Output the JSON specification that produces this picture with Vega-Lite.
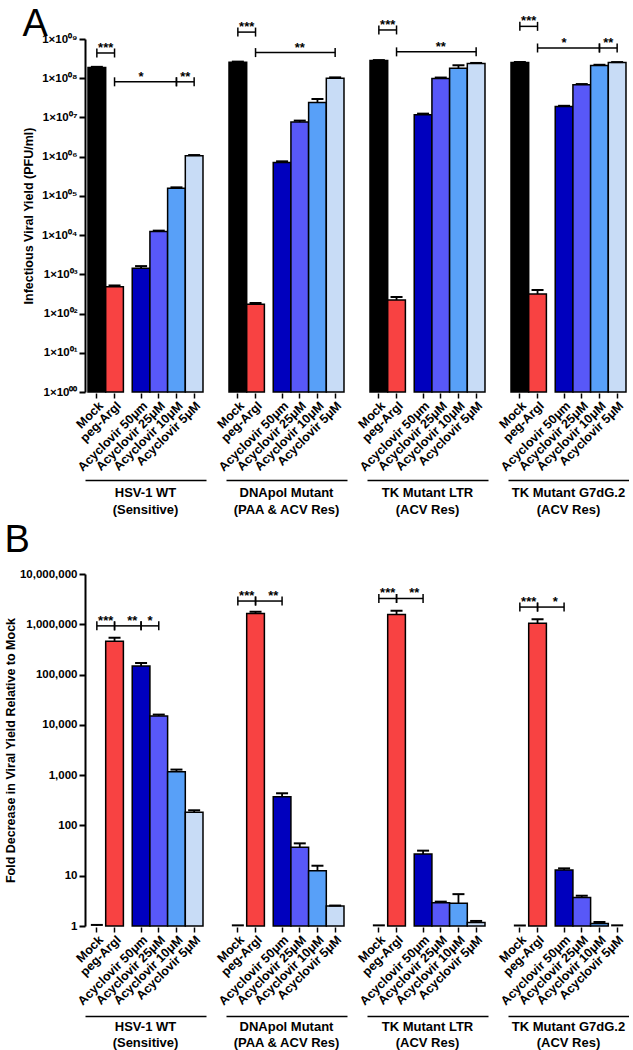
{
  "$schema": "https://vega.github.io/schema/vega-lite/v6.json",
  "background": "white",
  "padding": {"left": 4, "top": 6, "right": 0, "bottom": 0},
  "config": {
    "view": {"stroke": null},
    "font": "Liberation Sans",
    "axis": {"labelFont": "Liberation Sans", "titleFont": "Liberation Sans", "labelColor": "#000", "titleColor": "#000", "labelFontWeight": "bold", "titleFontWeight": "bold", "domainColor": "#000", "tickColor": "#000", "grid": false},
    "tick": {"opacity": 1},
    "concat": {"spacing": 5}
  },
  "datasets": {
    "A": [
      {"group": "HSV-1 WT", "cond": "Mock", "value": 187000000, "hi": 195000000},
      {"group": "HSV-1 WT", "cond": "peg-ArgI", "value": 485, "hi": 520},
      {"group": "HSV-1 WT", "cond": "Acyclovir 50μm", "value": 1430, "hi": 1620},
      {"group": "HSV-1 WT", "cond": "Acyclovir 25μM", "value": 12300, "hi": 13000},
      {"group": "HSV-1 WT", "cond": "Acyclovir 10μM", "value": 157000, "hi": 165000},
      {"group": "HSV-1 WT", "cond": "Acyclovir 5μM", "value": 1050000, "hi": 1100000},
      {"group": "DNApol Mutant", "cond": "Mock", "value": 257000000, "hi": 265000000},
      {"group": "DNApol Mutant", "cond": "peg-ArgI", "value": 173, "hi": 185},
      {"group": "DNApol Mutant", "cond": "Acyclovir 50μm", "value": 710000, "hi": 760000},
      {"group": "DNApol Mutant", "cond": "Acyclovir 25μM", "value": 7600000, "hi": 8300000},
      {"group": "DNApol Mutant", "cond": "Acyclovir 10μM", "value": 24000000, "hi": 29500000},
      {"group": "DNApol Mutant", "cond": "Acyclovir 5μM", "value": 100000000, "hi": 105000000},
      {"group": "TK Mutant LTR", "cond": "Mock", "value": 283000000, "hi": 290000000},
      {"group": "TK Mutant LTR", "cond": "peg-ArgI", "value": 222, "hi": 263},
      {"group": "TK Mutant LTR", "cond": "Acyclovir 50μm", "value": 11700000, "hi": 12500000},
      {"group": "TK Mutant LTR", "cond": "Acyclovir 25μM", "value": 98000000, "hi": 104000000},
      {"group": "TK Mutant LTR", "cond": "Acyclovir 10μM", "value": 180000000, "hi": 214000000},
      {"group": "TK Mutant LTR", "cond": "Acyclovir 5μM", "value": 237000000, "hi": 245000000},
      {"group": "TK Mutant G7dG.2", "cond": "Mock", "value": 252000000, "hi": 260000000},
      {"group": "TK Mutant G7dG.2", "cond": "peg-ArgI", "value": 316, "hi": 398},
      {"group": "TK Mutant G7dG.2", "cond": "Acyclovir 50μm", "value": 19000000, "hi": 19800000},
      {"group": "TK Mutant G7dG.2", "cond": "Acyclovir 25μM", "value": 68000000, "hi": 71000000},
      {"group": "TK Mutant G7dG.2", "cond": "Acyclovir 10μM", "value": 210000000, "hi": 220000000},
      {"group": "TK Mutant G7dG.2", "cond": "Acyclovir 5μM", "value": 250000000, "hi": 258000000},
      {"group": "HSV-1 WT", "x1": "Mock", "x2": "peg-ArgI", "y": 440000000, "stars": "***", "at": "_1"},
      {"group": "HSV-1 WT", "x1": "peg-ArgI", "x2": "Acyclovir 10μM", "y": 81000000, "stars": "*", "at": "Acyclovir 50μm"},
      {"group": "HSV-1 WT", "x1": "Acyclovir 10μM", "x2": "Acyclovir 5μM", "y": 81000000, "stars": "**", "at": "_6"},
      {"group": "DNApol Mutant", "x1": "Mock", "x2": "peg-ArgI", "y": 1500000000, "stars": "***", "at": "_1"},
      {"group": "DNApol Mutant", "x1": "peg-ArgI", "x2": "Acyclovir 5μM", "y": 450000000, "stars": "**", "at": "Acyclovir 25μM"},
      {"group": "TK Mutant LTR", "x1": "Mock", "x2": "peg-ArgI", "y": 1700000000, "stars": "***", "at": "_1"},
      {"group": "TK Mutant LTR", "x1": "peg-ArgI", "x2": "Acyclovir 5μM", "y": 470000000, "stars": "**", "at": "Acyclovir 25μM"},
      {"group": "TK Mutant G7dG.2", "x1": "Mock", "x2": "peg-ArgI", "y": 2100000000, "stars": "***", "at": "_1"},
      {"group": "TK Mutant G7dG.2", "x1": "peg-ArgI", "x2": "Acyclovir 10μM", "y": 590000000, "stars": "*", "at": "Acyclovir 50μm"},
      {"group": "TK Mutant G7dG.2", "x1": "Acyclovir 10μM", "x2": "Acyclovir 5μM", "y": 590000000, "stars": "**", "at": "_6"}
    ],
    "B": [
      {"group": "HSV-1 WT", "cond": "Mock", "value": 1, "hi": 1.05},
      {"group": "HSV-1 WT", "cond": "peg-ArgI", "value": 460000, "hi": 540000},
      {"group": "HSV-1 WT", "cond": "Acyclovir 50μm", "value": 148000, "hi": 170000},
      {"group": "HSV-1 WT", "cond": "Acyclovir 25μM", "value": 15000, "hi": 16000},
      {"group": "HSV-1 WT", "cond": "Acyclovir 10μM", "value": 1170, "hi": 1290},
      {"group": "HSV-1 WT", "cond": "Acyclovir 5μM", "value": 182, "hi": 200},
      {"group": "DNApol Mutant", "cond": "Mock", "value": 1, "hi": 1.03},
      {"group": "DNApol Mutant", "cond": "peg-ArgI", "value": 1630000, "hi": 1770000},
      {"group": "DNApol Mutant", "cond": "Acyclovir 50μm", "value": 372, "hi": 436},
      {"group": "DNApol Mutant", "cond": "Acyclovir 25μM", "value": 36.7, "hi": 44},
      {"group": "DNApol Mutant", "cond": "Acyclovir 10μM", "value": 12.6, "hi": 15.8},
      {"group": "DNApol Mutant", "cond": "Acyclovir 5μM", "value": 2.5, "hi": 2.55},
      {"group": "TK Mutant LTR", "cond": "Mock", "value": 1, "hi": 1.03},
      {"group": "TK Mutant LTR", "cond": "peg-ArgI", "value": 1560000, "hi": 1850000},
      {"group": "TK Mutant LTR", "cond": "Acyclovir 50μm", "value": 27, "hi": 31.5},
      {"group": "TK Mutant LTR", "cond": "Acyclovir 25μM", "value": 2.9, "hi": 3.05},
      {"group": "TK Mutant LTR", "cond": "Acyclovir 10μM", "value": 2.85, "hi": 4.3},
      {"group": "TK Mutant LTR", "cond": "Acyclovir 5μM", "value": 1.17, "hi": 1.26},
      {"group": "TK Mutant G7dG.2", "cond": "Mock", "value": 1, "hi": 1.02},
      {"group": "TK Mutant G7dG.2", "cond": "peg-ArgI", "value": 1050000, "hi": 1260000},
      {"group": "TK Mutant G7dG.2", "cond": "Acyclovir 50μm", "value": 13, "hi": 14},
      {"group": "TK Mutant G7dG.2", "cond": "Acyclovir 25μM", "value": 3.7, "hi": 4.0},
      {"group": "TK Mutant G7dG.2", "cond": "Acyclovir 10μM", "value": 1.12, "hi": 1.2},
      {"group": "TK Mutant G7dG.2", "cond": "Acyclovir 5μM", "value": 1.0, "hi": 1.03},
      {"group": "HSV-1 WT", "x1": "Mock", "x2": "peg-ArgI", "y": 930000, "stars": "***", "at": "_1"},
      {"group": "HSV-1 WT", "x1": "peg-ArgI", "x2": "Acyclovir 50μm", "y": 930000, "stars": "**", "at": "_3"},
      {"group": "HSV-1 WT", "x1": "Acyclovir 50μm", "x2": "Acyclovir 25μM", "y": 930000, "stars": "*", "at": "_4"},
      {"group": "DNApol Mutant", "x1": "Mock", "x2": "peg-ArgI", "y": 2900000, "stars": "***", "at": "_1"},
      {"group": "DNApol Mutant", "x1": "peg-ArgI", "x2": "Acyclovir 50μm", "y": 2900000, "stars": "**", "at": "_3"},
      {"group": "TK Mutant LTR", "x1": "Mock", "x2": "peg-ArgI", "y": 3260000, "stars": "***", "at": "_1"},
      {"group": "TK Mutant LTR", "x1": "peg-ArgI", "x2": "Acyclovir 50μm", "y": 3260000, "stars": "**", "at": "_3"},
      {"group": "TK Mutant G7dG.2", "x1": "Mock", "x2": "peg-ArgI", "y": 2200000, "stars": "***", "at": "_1"},
      {"group": "TK Mutant G7dG.2", "x1": "peg-ArgI", "x2": "Acyclovir 50μm", "y": 2200000, "stars": "*", "at": "_3"}
    ]
  },
  "vconcat": [
    {
      "data": {"name": "A"},
      "title": {"text": "A", "anchor": "start", "fontSize": 38, "fontWeight": "normal", "font": "Liberation Sans", "color": "#000", "offset": -29},
      "facet": {"column": {"field": "group", "type": "nominal", "title": null, "sort": ["HSV-1 WT", "DNApol Mutant", "TK Mutant LTR", "TK Mutant G7dG.2"],
        "header": {"labelOrient": "bottom", "labelFont": "Liberation Sans", "labelFontSize": 13, "labelFontWeight": "bold", "labelColor": "#000", "labelPadding": 7, "labelLineHeight": 17,
          "labelExpr": "datum.value == 'HSV-1 WT' ? ['HSV-1 WT', '(Sensitive)'] : datum.value == 'DNApol Mutant' ? ['DNApol Mutant', '(PAA & ACV  Res)'] : [datum.value, '(ACV Res)']"}}},
      "spacing": 20,
      "spec": {
        "width": 121,
        "height": 353,
        "layer": [
          {
            "transform": [{"filter": "isValid(datum.value) && datum.value > 1"}],
            "mark": {"type": "bar", "stroke": "#000", "strokeWidth": 1.5, "width": {"band": 2}},
            "encoding": {
              "x": {"field": "cond", "type": "nominal",
                "scale": {"domain": ["Mock", "_1", "peg-ArgI", "_2", "_3", "Acyclovir 50μm", "_4", "Acyclovir 25μM", "_5", "Acyclovir 10μM", "_6", "Acyclovir 5μM"], "paddingInner": 0, "paddingOuter": 0.84},
                "axis": {"values": ["Mock", "peg-ArgI", "Acyclovir 50μm", "Acyclovir 25μM", "Acyclovir 10μM", "Acyclovir 5μM"], "labelAngle": -45, "domain": false, "ticks": true, "tickSize": 5, "tickWidth": 1.5, "labelFontSize": 12.5, "labelPadding": 1, "labelOverlap": false, "title": null}},
              "y": {"field": "value", "type": "quantitative", "stack": null,
                "scale": {"type": "log", "domain": [1, 1000000000], "nice": false},
                "axis": {"values": [1, 10, 100, 1000, 10000, 100000, 1000000, 10000000, 100000000, 1000000000],
                  "labelExpr": "'1×10⁰' + substring('⁰¹²³⁴⁵⁶⁷⁸⁹', round(log(datum.value)/LN10), round(log(datum.value)/LN10) + 1)",
                  "title": "Infectious Viral Yield (PFU/ml)", "domainWidth": 2, "tickWidth": 2, "tickSize": 6, "labelFontSize": 11.5, "titleFontSize": 12.5, "labelPadding": 2, "titlePadding": 6}},
              "color": {"field": "cond", "type": "nominal", "legend": null,
                "scale": {"domain": ["Mock", "peg-ArgI", "Acyclovir 50μm", "Acyclovir 25μM", "Acyclovir 10μM", "Acyclovir 5μM"], "range": ["#000000", "#F84242", "#0000BE", "#5858F8", "#58A0F8", "#C8DCF6"]}}
            }
          },
          {
            "transform": [{"filter": "isValid(datum.value)"}],
            "mark": {"type": "rule", "stroke": "#000", "strokeWidth": 1.8},
            "encoding": {
              "x": {"field": "cond", "type": "nominal", "axis": {"orient": "bottom", "offset": 87, "domain": true, "domainColor": "#000", "domainWidth": 1.5, "labels": false, "ticks": false, "title": null}},
              "y": {"field": "value", "type": "quantitative"},
              "y2": {"field": "hi"}
            }
          },
          {
            "transform": [{"filter": "isValid(datum.value)"}],
            "mark": {"type": "tick", "color": "#000", "thickness": 2, "size": 12},
            "encoding": {
              "x": {"field": "cond", "type": "nominal", "axis": null},
              "y": {"field": "hi", "type": "quantitative"}
            }
          },
          {
            "transform": [{"filter": "isValid(datum.y)"}],
            "mark": {"type": "rule", "stroke": "#000", "strokeWidth": 1.5},
            "encoding": {
              "x": {"field": "x1", "type": "nominal", "axis": null},
              "x2": {"field": "x2"},
              "y": {"field": "y", "type": "quantitative"}
            }
          },
          {
            "transform": [{"filter": "isValid(datum.y)"}],
            "mark": {"type": "tick", "orient": "vertical", "color": "#000", "thickness": 1.5, "size": 9},
            "encoding": {
              "x": {"field": "x1", "type": "nominal", "axis": null},
              "y": {"field": "y", "type": "quantitative"}
            }
          },
          {
            "transform": [{"filter": "isValid(datum.y)"}],
            "mark": {"type": "tick", "orient": "vertical", "color": "#000", "thickness": 1.5, "size": 9},
            "encoding": {
              "x": {"field": "x2", "type": "nominal", "axis": null},
              "y": {"field": "y", "type": "quantitative"}
            }
          },
          {
            "transform": [{"filter": "isValid(datum.y)"}],
            "mark": {"type": "text", "fontSize": 13, "fontWeight": "bold", "baseline": "alphabetic", "dy": -1, "color": "#000"},
            "encoding": {
              "x": {"field": "at", "type": "nominal", "axis": null},
              "y": {"field": "y", "type": "quantitative"},
              "text": {"field": "stars"}
            }
          }
        ],
        "resolve": {"axis": {"x": "independent"}}
      }
    },
    {
      "data": {"name": "B"},
      "title": {"text": "B", "anchor": "start", "fontSize": 38, "fontWeight": "normal", "font": "Liberation Sans", "color": "#000", "offset": 8},
      "facet": {"column": {"field": "group", "type": "nominal", "title": null, "sort": ["HSV-1 WT", "DNApol Mutant", "TK Mutant LTR", "TK Mutant G7dG.2"],
        "header": {"labelOrient": "bottom", "labelFont": "Liberation Sans", "labelFontSize": 13, "labelFontWeight": "bold", "labelColor": "#000", "labelPadding": 5, "labelLineHeight": 16,
          "labelExpr": "datum.value == 'HSV-1 WT' ? ['HSV-1 WT', '(Sensitive)'] : datum.value == 'DNApol Mutant' ? ['DNApol Mutant', '(PAA & ACV  Res)'] : [datum.value, '(ACV Res)']"}}},
      "spacing": 20,
      "spec": {
        "width": 121,
        "height": 352,
        "layer": [
          {
            "transform": [{"filter": "isValid(datum.value) && datum.value > 1"}],
            "mark": {"type": "bar", "stroke": "#000", "strokeWidth": 1.5, "width": {"band": 2}},
            "encoding": {
              "x": {"field": "cond", "type": "nominal",
                "scale": {"domain": ["Mock", "_1", "peg-ArgI", "_2", "_3", "Acyclovir 50μm", "_4", "Acyclovir 25μM", "_5", "Acyclovir 10μM", "_6", "Acyclovir 5μM"], "paddingInner": 0, "paddingOuter": 0.84},
                "axis": {"values": ["Mock", "peg-ArgI", "Acyclovir 50μm", "Acyclovir 25μM", "Acyclovir 10μM", "Acyclovir 5μM"], "labelAngle": -45, "domain": false, "ticks": true, "tickSize": 5, "tickWidth": 1.5, "labelFontSize": 12.5, "labelPadding": 1, "labelOverlap": false, "title": null}},
              "y": {"field": "value", "type": "quantitative", "stack": null,
                "scale": {"type": "log", "domain": [1, 10000000], "nice": false},
                "axis": {"values": [1, 10, 100, 1000, 10000, 100000, 1000000, 10000000], "format": ",.0f",
                  "title": "Fold Decrease in Viral Yield Relative to Mock", "domainWidth": 2, "tickWidth": 2, "tickSize": 6, "labelFontSize": 11.5, "titleFontSize": 12.5, "labelPadding": 2, "titlePadding": 2}},
              "color": {"field": "cond", "type": "nominal", "legend": null,
                "scale": {"domain": ["Mock", "peg-ArgI", "Acyclovir 50μm", "Acyclovir 25μM", "Acyclovir 10μM", "Acyclovir 5μM"], "range": ["#000000", "#F84242", "#0000BE", "#5858F8", "#58A0F8", "#C8DCF6"]}}
            }
          },
          {
            "transform": [{"filter": "isValid(datum.value)"}],
            "mark": {"type": "rule", "stroke": "#000", "strokeWidth": 1.8},
            "encoding": {
              "x": {"field": "cond", "type": "nominal", "axis": {"orient": "bottom", "offset": 89, "domain": true, "domainColor": "#000", "domainWidth": 1.5, "labels": false, "ticks": false, "title": null}},
              "y": {"field": "value", "type": "quantitative"},
              "y2": {"field": "hi"}
            }
          },
          {
            "transform": [{"filter": "isValid(datum.value)"}],
            "mark": {"type": "tick", "color": "#000", "thickness": 2, "size": 12},
            "encoding": {
              "x": {"field": "cond", "type": "nominal", "axis": null},
              "y": {"field": "hi", "type": "quantitative"}
            }
          },
          {
            "transform": [{"filter": "isValid(datum.y)"}],
            "mark": {"type": "rule", "stroke": "#000", "strokeWidth": 1.5},
            "encoding": {
              "x": {"field": "x1", "type": "nominal", "axis": null},
              "x2": {"field": "x2"},
              "y": {"field": "y", "type": "quantitative"}
            }
          },
          {
            "transform": [{"filter": "isValid(datum.y)"}],
            "mark": {"type": "tick", "orient": "vertical", "color": "#000", "thickness": 1.5, "size": 9},
            "encoding": {
              "x": {"field": "x1", "type": "nominal", "axis": null},
              "y": {"field": "y", "type": "quantitative"}
            }
          },
          {
            "transform": [{"filter": "isValid(datum.y)"}],
            "mark": {"type": "tick", "orient": "vertical", "color": "#000", "thickness": 1.5, "size": 9},
            "encoding": {
              "x": {"field": "x2", "type": "nominal", "axis": null},
              "y": {"field": "y", "type": "quantitative"}
            }
          },
          {
            "transform": [{"filter": "isValid(datum.y)"}],
            "mark": {"type": "text", "fontSize": 13, "fontWeight": "bold", "baseline": "alphabetic", "dy": -1, "color": "#000"},
            "encoding": {
              "x": {"field": "at", "type": "nominal", "axis": null},
              "y": {"field": "y", "type": "quantitative"},
              "text": {"field": "stars"}
            }
          }
        ],
        "resolve": {"axis": {"x": "independent"}}
      }
    }
  ]
}
